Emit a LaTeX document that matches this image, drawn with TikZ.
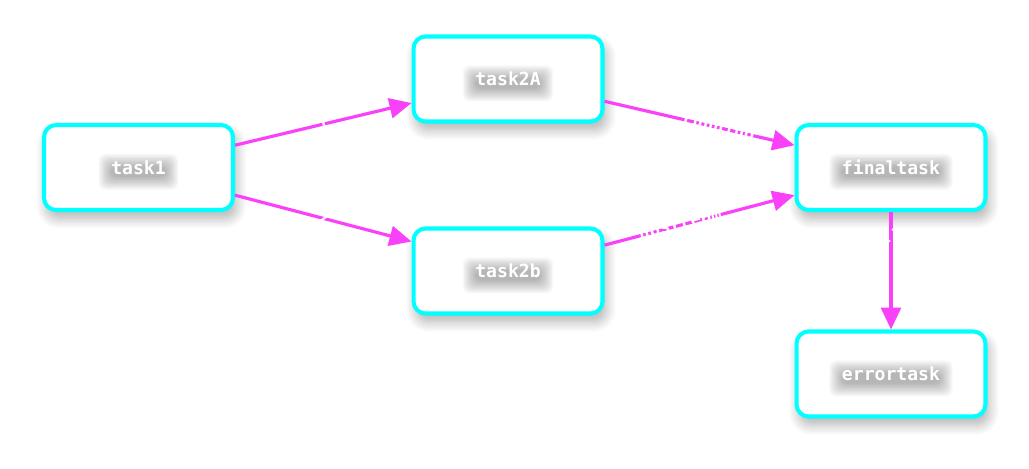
\documentclass[tikz,border=0pt]{standalone}
\usepackage{fontspec}
\setmonofont{DejaVu Sans Mono}
\usepackage{tikz}
\usetikzlibrary{arrows.meta, shadows.blur}

\definecolor{boxcyan}{RGB}{0,255,255}
\definecolor{edgepink}{RGB}{250,65,250}

\begin{document}
\begin{tikzpicture}[x=0.02cm, y=-0.02cm,
      taskbox/.style={draw=boxcyan, line width=2.3pt, fill=white, rounded corners=0.24cm,
        minimum width=3.78cm, minimum height=1.7cm, text=white,
        font=\ttfamily\bfseries\fontsize{10.3}{12}\selectfont,
        blur shadow={shadow xshift=0.06cm, shadow yshift=-0.16cm, shadow blur radius=0.22cm,
          shadow blur steps=10, shadow opacity=32},
        path picture={
          \foreach \k in {0,...,9}
            \fill[black, opacity=0.032, rounded corners=4pt]
              ([xshift=-#1*3.1pt-\k*0.8pt, yshift=-2.5pt-3pt-\k*0.8pt]path picture bounding box.center)
              rectangle ([xshift=#1*3.1pt+\k*0.8pt, yshift=-2.5pt+3pt+\k*0.8pt]path picture bounding box.center);
        }},
      flow/.style={draw=edgepink, line width=1.8pt, -{Triangle[length=0.44cm, width=0.4cm]}},
      edgelabel/.style={text=white, inner sep=0pt, font=\ttfamily\bfseries\fontsize{10}{12}\selectfont}]
    \useasboundingbox (0,0) rectangle (1029,468);
    \node (task1) [taskbox=5] at (138.5,167.5) {task1};
    \node (task2A) [taskbox=6] at (508,79) {task2A};
    \node (task2b) [taskbox=6] at (508,271) {task2b};
    \node (finaltask) [taskbox=9] at (891,167.5) {finaltask};
    \node (errortask) [taskbox=9] at (891,374) {errortask};
    % connectors
    \draw[flow] (task1.13) -- node[edgelabel, sloped] {1} (task2A.194);
    \draw[flow] (task1.-16) -- node[edgelabel, sloped] {2} (task2b.163.5);
    \draw[flow] (task2A.-13) -- node[edgelabel, sloped, pos=0.6] {running} (finaltask.167);
    \draw[flow] (task2b.15) -- node[edgelabel, sloped, pos=0.4] {upstream} (finaltask.196);
    \draw[flow] (finaltask.south) -- node[edgelabel, pos=0.2] {failed} (errortask.north);
  \end{tikzpicture}
\end{document}
